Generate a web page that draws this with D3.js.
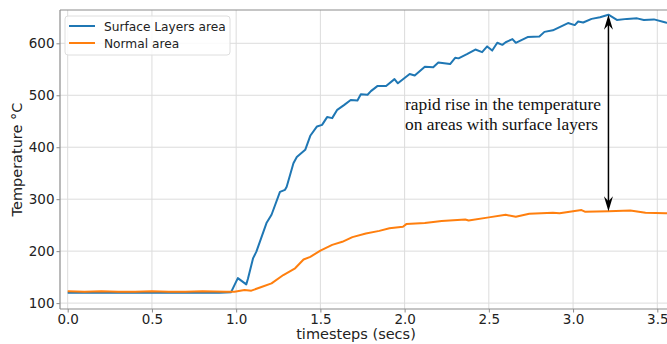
<!DOCTYPE html>
<html>
<head>
<meta charset="utf-8">
<script src="https://cdn.jsdelivr.net/npm/d3@7"></script>
<style>
  body { margin: 0; background: #fff; }
  svg { display: block; }
</style>
</head>
<body>
<div id="chart"></div>
<script>
// series
const seriesNames = ["Surface Layers area", "Normal area"]

const surfaceT = [0.00, 0.10, 0.20, 0.30, 0.40, 0.50, 0.60, 0.70, 0.80, 0.90, 0.97, 1.01, 1.06, 1.07, 1.10, 1.12, 1.18, 1.21, 1.26, 1.29, 1.30, 1.34, 1.36, 1.41, 1.44, 1.48, 1.51, 1.54, 1.57, 1.60, 1.64, 1.68, 1.72, 1.74, 1.78, 1.80, 1.84, 1.89, 1.94, 1.96, 2.03, 2.06, 2.12, 2.17, 2.20, 2.27, 2.30, 2.32, 2.37, 2.42, 2.46, 2.49, 2.52, 2.55, 2.58, 2.60, 2.64, 2.66, 2.73, 2.80, 2.83, 2.88, 2.97, 3.01, 3.03, 3.06, 3.11, 3.16, 3.21, 3.26, 3.32, 3.38, 3.42, 3.48, 3.55, 3.58]
const surfaceV = [120, 120, 120, 120, 120, 120, 120, 120, 120, 120, 121, 148, 136, 147, 186, 199, 254, 270, 314, 318, 324, 369, 381, 395, 422, 440, 443, 458, 456, 472, 481, 491, 490, 502, 501, 508, 518, 518, 531, 523, 541, 538, 555, 554, 563, 560, 572, 571, 579, 588, 583, 594, 586, 601, 597, 602, 608, 601, 612, 613, 622, 625, 639, 635, 642, 640, 647, 650, 655, 645, 647, 648, 645, 646, 640, 638]

const normalT = [0.00, 0.10, 0.20, 0.30, 0.40, 0.50, 0.60, 0.70, 0.80, 0.94, 0.99, 1.05, 1.09, 1.15, 1.21, 1.28, 1.35, 1.40, 1.44, 1.50, 1.57, 1.63, 1.69, 1.77, 1.85, 1.91, 1.99, 2.01, 2.12, 2.22, 2.36, 2.38, 2.50, 2.60, 2.66, 2.74, 2.88, 2.92, 2.98, 3.05, 3.07, 3.21, 3.34, 3.43, 3.55, 3.58]
const normalV = [123, 122, 123, 122, 122, 123, 122, 122, 123, 122, 122, 125, 124, 131, 138, 154, 167, 184, 189, 201, 212, 218, 227, 234, 239, 244, 247, 252, 254, 258, 261, 259, 265, 270, 266, 272, 274, 273, 276, 279, 276, 277, 278, 274, 273, 273]

const xTicks = [0.0, 0.5, 1.0, 1.5, 2.0, 2.5, 3.0, 3.5]
const yTicks = [100, 200, 300, 400, 500, 600]

// annotation
const noteLines = ["rapid rise in the temperature", "on areas with surface layers"]
const arrowT = 3.21
const arrowFrom = 655
const arrowTo = 277

const w = 667
const h = 344
const pLeft = 60, pRight = 672, pTop = 10, pBottom = 309

const colors = ["#1f77b4", "#ff7f0e"]
const font = "DejaVu Sans, sans-serif"

const x = d3.scaleLinear().domain([0, 3.5]).range([67.7, 657.3])
const y = d3.scaleLinear().domain([100, 600]).range([303.1, 43.3])

const svg = d3.select("#chart").append("svg")
    .attr("width", w)
    .attr("height", h)

svg.append("defs").append("clipPath").attr("id", "clip")
    .append("rect")
    .attr("x", pLeft).attr("y", pTop)
    .attr("width", pRight - pLeft).attr("height", pBottom - pTop)

// grid
const grid = svg.append("g")
grid.selectAll(".gx").data(xTicks).enter().append("line")
    .attr("x1", d => x(d)).attr("x2", d => x(d))
    .attr("y1", pTop).attr("y2", pBottom)
    .attr("stroke", "#dcdcdc").attr("stroke-width", 1)
grid.selectAll(".gy").data(yTicks).enter().append("line")
    .attr("x1", pLeft).attr("x2", pRight)
    .attr("y1", d => y(d)).attr("y2", d => y(d))
    .attr("stroke", "#dcdcdc").attr("stroke-width", 1)

// axes
const xAxis = d3.axisBottom(x).tickValues(xTicks).tickFormat(d3.format(".1f")).tickSize(3.5).tickPadding(1.5)
const yAxis = d3.axisLeft(y).tickValues(yTicks).tickFormat(d3.format("d")).tickSize(3.5).tickPadding(2)

const gx = svg.append("g").attr("transform", "translate(0," + pBottom + ")").call(xAxis)
const gy = svg.append("g").attr("transform", "translate(" + pLeft + ",0)").call(yAxis)

;[gx, gy].forEach(g => {
    g.select(".domain").remove()
    g.selectAll(".tick line").attr("stroke", "#8c8c8c")
    g.selectAll(".tick text")
        .attr("fill", "#222")
        .style("font-family", font)
        .style("font-size", "13.5px")
})

// spines
svg.append("line").attr("x1", pLeft).attr("x2", pLeft).attr("y1", pTop).attr("y2", pBottom)
    .attr("stroke", "#8c8c8c").attr("stroke-width", 1.2)
svg.append("line").attr("x1", pLeft).attr("x2", pRight).attr("y1", pBottom).attr("y2", pBottom)
    .attr("stroke", "#8c8c8c").attr("stroke-width", 1.2)
svg.append("line").attr("x1", pLeft).attr("x2", pRight).attr("y1", pTop).attr("y2", pTop)
    .attr("stroke", "#8c8c8c").attr("stroke-width", 1.2)

// lines
const line = d3.line().x(d => x(d[0])).y(d => y(d[1]))
const series = [
    d3.zip(surfaceT, surfaceV),
    d3.zip(normalT, normalV)
]
svg.append("g").attr("clip-path", "url(#clip)")
    .selectAll("path").data(series).enter().append("path")
    .attr("d", line)
    .attr("fill", "none")
    .attr("stroke", (d, i) => colors[i])
    .attr("stroke-width", 2)
    .attr("stroke-linejoin", "round")

// axis labels
svg.append("text")
    .attr("x", 356).attr("y", 339)
    .attr("text-anchor", "middle")
    .style("font-family", font).style("font-size", "14.5px").attr("fill", "#222")
    .text("timesteps (secs)")
svg.append("text")
    .attr("transform", "translate(22," + ((pTop + pBottom) / 2) + ") rotate(-90)")
    .attr("text-anchor", "middle")
    .style("font-family", font).style("font-size", "14.5px").attr("fill", "#222")
    .text("Temperature °C")

// legend
const leg = svg.append("g")
leg.append("rect")
    .attr("x", 65).attr("y", 16).attr("width", 165).attr("height", 39).attr("rx", 3)
    .attr("fill", "#fff").attr("fill-opacity", 0.85)
    .attr("stroke", "#dedede")
seriesNames.forEach((name, i) => {
    const ly = 26 + i * 17
    leg.append("line").attr("x1", 69).attr("x2", 95).attr("y1", ly).attr("y2", ly)
        .attr("stroke", colors[i]).attr("stroke-width", 2)
    leg.append("text").attr("x", 104).attr("y", ly + 4.5)
        .style("font-family", font).style("font-size", "12.2px").attr("fill", "#222")
        .text(name)
})

// annotation text
svg.append("g").selectAll("text").data(noteLines).enter().append("text")
    .attr("x", 405).attr("y", (d, i) => 110 + i * 19.5)
    .style("font-family", "Liberation Serif, Times New Roman, serif")
    .style("font-size", "17.4px").attr("fill", "#111")
    .text(d => d)

// double arrow
const ax = x(arrowT), ay1 = y(arrowFrom), ay2 = y(arrowTo)
svg.append("line").attr("x1", ax).attr("x2", ax).attr("y1", ay1 + 6).attr("y2", ay2 - 6)
    .attr("stroke", "#000").attr("stroke-width", 1.5)
const head = (tipY, dir) => {
    // dir = 1 pointing up, -1 pointing down
    const L = 15, W = 4.5, notch = 5
    return "M" + ax + "," + tipY +
        "L" + (ax + W) + "," + (tipY + dir * L) +
        "L" + ax + "," + (tipY + dir * (L - notch)) +
        "L" + (ax - W) + "," + (tipY + dir * L) + "Z"
}
svg.append("path").attr("d", head(ay1, 1)).attr("fill", "#000")
svg.append("path").attr("d", head(ay2, -1)).attr("fill", "#000")
</script>
</body>
</html>
